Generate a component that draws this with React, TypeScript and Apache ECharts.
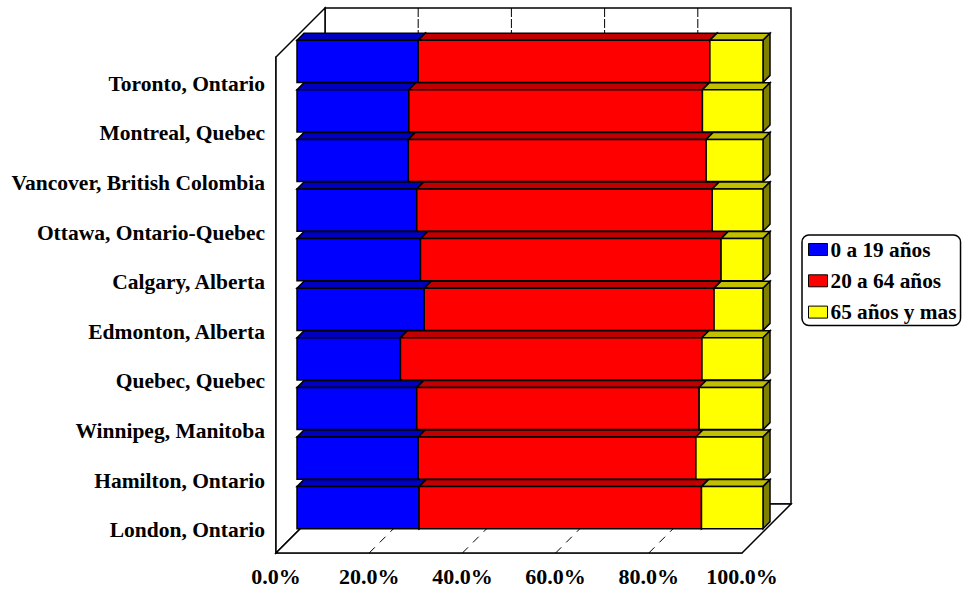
import React, { useEffect, useRef } from "react";
import * as echarts from "echarts";

const categories = [
  "Toronto, Ontario",
  "Montreal, Quebec",
  "Vancover, British Colombia",
  "Ottawa, Ontario-Quebec",
  "Calgary, Alberta",
  "Edmonton, Alberta",
  "Quebec, Quebec",
  "Winnipeg, Manitoba",
  "Hamilton, Ontario",
  "London, Ontario",
];
const youngShare = [26.0, 24.0, 23.9, 25.7, 26.5, 27.3, 22.2, 25.7, 26.0, 26.2];
const adultShare = [62.6, 63.0, 63.9, 63.4, 64.5, 62.2, 64.7, 60.6, 59.6, 60.6];
const seniorShare = [11.4, 13.0, 12.2, 10.9, 9.0, 10.5, 13.1, 13.7, 14.4, 13.2];
const gridTicks = [20, 40, 60, 80];

const ageGroups = [
  { name: "0 a 19 años", values: youngShare, face: "#0000ff", top: "#0000c0", side: "#000080" },
  { name: "20 a 64 años", values: adultShare, face: "#ff0000", top: "#c00000", side: "#800000" },
  { name: "65 años y mas", values: seniorShare, face: "#ffff00", top: "#c0c000", side: "#808000" },
];

const FONT = "'Liberation Serif', 'Times New Roman', serif";
const ROOM_DEPTH = 49; // oblique offset from the front plane to the back wall
const BAR_DEPTH = 7; // oblique thickness of each bar
const LINE = "#000";
const LINE_WIDTH = 1.5;

// Start and end of each stacked segment, row by row.
function stackRows(index: number) {
  return categories.map((_, row) => {
    let start = 0;
    for (let i = 0; i < index; i++) start += ageGroups[i].values[row];
    return [start, start + ageGroups[index].values[row], row];
  });
}

function renderRoom(_: any, api: any) {
  const [x0, yBottom] = api.coord([0, 9]);
  const halfBand = api.size([0, 1])[1] / 2;
  const bottom = yBottom + halfBand;
  const top = bottom - api.size([0, 1])[1] * categories.length;
  const x1 = api.coord([100, 9])[0];
  const d = ROOM_DEPTH;
  const shape = (points: number[][]) => ({
    type: "polygon",
    shape: { points },
    style: { fill: "#fff", stroke: LINE, lineWidth: LINE_WIDTH },
  });
  return {
    type: "group",
    children: [
      shape([[x0 + d, top - d], [x1 + d, top - d], [x1 + d, bottom - d], [x0 + d, bottom - d]]),
      shape([[x0, bottom], [x0, top], [x0 + d, top - d], [x0 + d, bottom - d]]),
      shape([[x0, bottom], [x0 + d, bottom - d], [x1 + d, bottom - d], [x1, bottom]]),
    ],
  };
}

function renderGridLine(_: any, api: any) {
  const x = api.coord([api.value(0), 9])[0];
  const band = api.size([0, 1])[1];
  const bottom = api.coord([0, 9])[1] + band / 2;
  const top = bottom - band * categories.length;
  const d = ROOM_DEPTH;
  return {
    type: "group",
    children: [
      {
        type: "line",
        shape: { x1: x, y1: bottom, x2: x + d, y2: bottom - d },
        style: { stroke: LINE, lineWidth: 1, lineDash: [8, 7] },
      },
      {
        type: "line",
        shape: { x1: x + d, y1: top - d, x2: x + d, y2: bottom - d },
        style: { stroke: LINE, lineWidth: 1, lineDash: [9, 2] },
      },
    ],
  };
}

function barRenderer(group: (typeof ageGroups)[number]) {
  return (_: any, api: any) => {
    const row = api.value(2);
    const [x0, yc] = api.coord([api.value(0), row]);
    const x1 = api.coord([api.value(1), row])[0];
    const h = api.size([0, 1])[1] * 0.85;
    const y0 = yc - h / 2;
    const y1 = yc + h / 2;
    const d = BAR_DEPTH;
    const stroke = { stroke: LINE, lineWidth: LINE_WIDTH };
    return {
      type: "group",
      children: [
        {
          type: "polygon",
          shape: { points: [[x0, y0], [x0 + d, y0 - d], [x1 + d, y0 - d], [x1, y0]] },
          style: { fill: group.top, ...stroke },
        },
        {
          type: "polygon",
          shape: { points: [[x1, y0], [x1 + d, y0 - d], [x1 + d, y1 - d], [x1, y1]] },
          style: { fill: group.side, ...stroke },
        },
        {
          type: "rect",
          shape: { x: x0, y: y0, width: x1 - x0, height: y1 - y0 },
          style: { fill: group.face, ...stroke },
        },
      ],
    };
  };
}

export default function App() {
  const ref = useRef<HTMLDivElement>(null);
  useEffect(() => {
    const chart = echarts.init(ref.current!, undefined, { renderer: "svg" });
    const textStyle = { fontFamily: FONT, fontWeight: "bold" as const, color: "#000" };
    chart.setOption({
      animation: false,
      backgroundColor: "#fff",
      grid: [
        // front plane of the room
        { left: 276, top: 57, width: 466, height: 496 },
        // front faces of the bars, set back into the room
        { left: 297, top: 36.5, width: 466, height: 496 },
        // city names, sitting just under each row's centre
        { left: 276, top: 59, width: 466, height: 496 },
      ],
      xAxis: [
        {
          gridIndex: 0,
          type: "value",
          min: 0,
          max: 100,
          interval: 20,
          axisLine: { show: true, lineStyle: { color: "#555", width: LINE_WIDTH } },
          axisTick: { show: false },
          splitLine: { show: false },
          axisLabel: {
            ...textStyle,
            fontSize: 22,
            margin: 12,
            hideOverlap: false,
            formatter: (v: number) => `${v.toFixed(1)}%`,
          },
        },
        { gridIndex: 1, type: "value", min: 0, max: 100, show: false },
        { gridIndex: 2, type: "value", min: 0, max: 100, show: false },
      ],
      yAxis: [
        {
          gridIndex: 0,
          type: "category",
          inverse: true,
          data: categories,
          axisLine: { show: true, lineStyle: { color: LINE, width: LINE_WIDTH } },
          axisTick: { show: false },
          axisLabel: { show: false },
        },
        { gridIndex: 1, type: "category", inverse: true, data: categories, show: false },
        {
          gridIndex: 2,
          type: "category",
          inverse: true,
          data: categories,
          axisLine: { show: false },
          axisTick: { show: false },
          axisLabel: { ...textStyle, fontSize: 21.5, margin: 11, interval: 0 },
        },
      ],
      legend: {
        left: 802,
        top: 235,
        orient: "vertical",
        align: "left",
        icon: "rect",
        itemWidth: 19,
        itemHeight: 12,
        itemGap: 10.3,
        padding: [4, 4, 3, 6],
        borderColor: LINE,
        borderWidth: LINE_WIDTH,
        borderRadius: 7,
        backgroundColor: "#fff",
        selectedMode: false,
        itemStyle: { borderColor: LINE, borderWidth: 1 },
        textStyle: { ...textStyle, fontSize: 21.3, padding: [0, 0, 0, -2] },
        data: ageGroups.map((g) => g.name),
      },
      series: [
        {
          type: "custom",
          name: "room",
          xAxisIndex: 0,
          yAxisIndex: 0,
          silent: true,
          z: 1,
          data: [[0, 0]],
          renderItem: renderRoom,
        },
        {
          type: "custom",
          name: "gridlines",
          xAxisIndex: 0,
          yAxisIndex: 0,
          silent: true,
          z: 2,
          data: gridTicks.map((t) => [t, 9]),
          renderItem: renderGridLine,
        },
        ...ageGroups.map((g, i) => ({
          type: "custom",
          name: g.name,
          xAxisIndex: 1,
          yAxisIndex: 1,
          silent: true,
          z: 3 + i,
          itemStyle: { color: g.face },
          encode: { x: [0, 1], y: 2 },
          data: stackRows(i),
          renderItem: barRenderer(g),
        })),
      ],
    });
    return () => chart.dispose();
  }, []);
  return (
    <div
      ref={ref}
      style={{ position: "absolute", left: 0, top: 0, width: 962, height: 589 }}
    />
  );
}
